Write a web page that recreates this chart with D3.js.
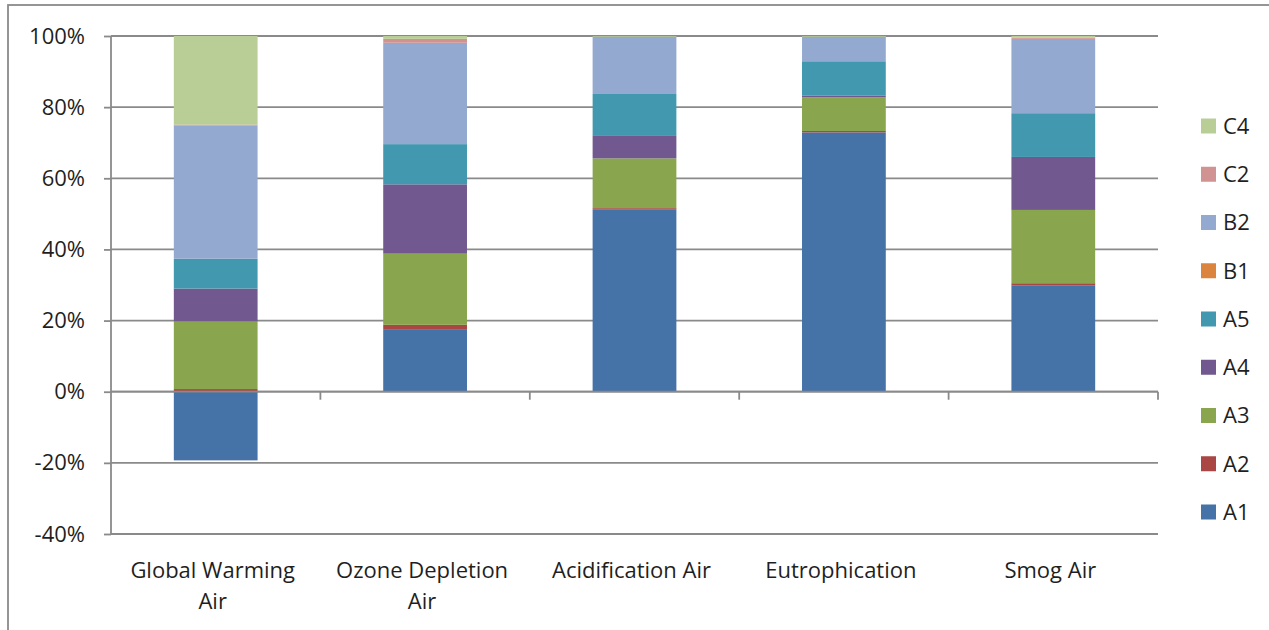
<!DOCTYPE html>
<html>
<head>
<meta charset="utf-8">
<script src="https://cdn.jsdelivr.net/npm/d3@7"></script>
<style>
  html, body { margin: 0; padding: 0; background: #fff; }
  svg { display: block; }
  text { font-family: "Open Sans", sans-serif; fill: #1f1f1f; }
</style>
</head>
<body>
<svg id="chart" width="1269" height="630"></svg>
<script>
const categories = ["Global Warming Air", "Ozone Depletion Air", "Acidification Air", "Eutrophication", "Smog Air"];
const seriesNames = ["A1", "A2", "A3", "A4", "A5", "B1", "B2", "C2", "C4"];
const A1 = [-19.3, 17.4, 51.3, 72.9, 29.8];
const A2 = [0.75, 1.4, 0.3, 0.4, 0.7];
const A3 = [19.0, 20.0, 14.0, 9.5, 20.6];
const A4 = [9.25, 19.5, 6.5, 0.5, 14.9];
const A5 = [8.4, 11.3, 11.6, 9.6, 12.3];
const B1 = [0, 0, 0, 0, 0];
const B2 = [37.4, 28.5, 16.1, 6.9, 20.9];
const C2 = [0.3, 1.1, 0, 0, 0.3];
const C4 = [24.9, 0.8, 0.2, 0.2, 0.5];
const yTicks = [-40, -20, 0, 20, 40, 60, 80, 100];
const colors = ["#4572A7", "#AA4643", "#89A54E", "#71588F", "#4198AF", "#DB843D", "#93A9CF", "#D19392", "#B9CD96"];

(function () {
const seriesValues = [A1, A2, A3, A4, A5, B1, B2, C2, C4];
const rows = categories.map((c, i) => {
  const r = { category: c };
  seriesNames.forEach((s, j) => r[s] = seriesValues[j][i]);
  return r;
});

const svg = d3.select("#chart");
const pLeft = 111, pRight = 1158, pTop = 36, pBottom = 534;
const gridColor = "#8a8a8a";
const fs = "22px";

// outer border
svg.append("rect").attr("x", 8).attr("y", 5).attr("width", 1400).attr("height", 800)
  .attr("fill", "none").attr("stroke", gridColor).attr("stroke-width", 1.8);

const y = d3.scaleLinear().domain([-40, 100]).range([pBottom, pTop]);
const x = d3.scaleBand().domain(categories).range([pLeft, pRight]).paddingInner(0.6).paddingOuter(0.3);
const xb = d3.scaleBand().domain(categories).range([pLeft, pRight]).padding(0);
const color = d3.scaleOrdinal().domain(seriesNames).range(colors);

// gridlines
svg.append("g").selectAll("line").data(yTicks).join("line")
  .attr("x1", pLeft).attr("x2", pRight)
  .attr("y1", d => y(d)).attr("y2", d => y(d))
  .attr("stroke", gridColor).attr("stroke-width", 1.8);

// bars
const stack = d3.stack().keys(seriesNames).offset(d3.stackOffsetDiverging);
const stacked = stack(rows);
svg.append("g").selectAll("g").data(stacked).join("g")
  .attr("fill", d => color(d.key))
  .selectAll("rect").data(d => d).join("rect")
  .attr("x", d => x(d.data.category))
  .attr("width", x.bandwidth())
  .attr("y", d => y(Math.max(d[0], d[1])))
  .attr("height", d => Math.abs(y(d[0]) - y(d[1])));

// y axis
const yAxis = d3.axisLeft(y).tickValues(yTicks).tickSize(7).tickPadding(19)
  .tickFormat(d => d + "%");
const yg = svg.append("g").attr("transform", `translate(${pLeft},0)`).call(yAxis);
yg.select(".domain").attr("stroke", gridColor).attr("stroke-width", 1.8).attr("d", `M0,${pTop}V${pBottom}`);
yg.selectAll(".tick line").attr("stroke", gridColor).attr("stroke-width", 1.8);
yg.selectAll("text").style("font-size", fs).style("font-family", "Open Sans").attr("fill", "#1f1f1f");

// x axis at zero
const xAxis = d3.axisBottom(xb).tickSize(0).tickFormat("");
const xg = svg.append("g").attr("transform", `translate(0,${y(0)})`).call(xAxis);
xg.select(".domain").attr("stroke", gridColor).attr("stroke-width", 1.8).attr("d", `M${pLeft},0H${pRight}`);
xg.selectAll(".tick").remove();
xg.selectAll("line.sep").data(categories).join("line").attr("class", "sep")
  .attr("x1", d => xb(d) + xb.bandwidth()).attr("x2", d => xb(d) + xb.bandwidth())
  .attr("y1", 0).attr("y2", 8)
  .attr("stroke", gridColor).attr("stroke-width", 1.8);

// category labels (wrapped)
const labelG = svg.append("g");
categories.forEach(c => {
  const cx = xb(c) + xb.bandwidth() / 2 - 3;
  const t = labelG.append("text").attr("x", cx).attr("y", 578).attr("text-anchor", "middle")
    .style("font-size", fs);
  const words = c.split(" ");
  let line = [];
  let tspan = t.append("tspan").attr("x", cx).attr("dy", 0);
  words.forEach(w => {
    line.push(w);
    tspan.text(line.join(" "));
    if (tspan.node().getComputedTextLength() > 188 && line.length > 1) {
      line.pop();
      tspan.text(line.join(" "));
      line = [w];
      tspan = t.append("tspan").attr("x", cx).attr("dy", 31).text(w);
    }
  });
});

// legend
const legendNames = seriesNames.slice().reverse();
const lg = svg.append("g");
legendNames.forEach((s, i) => {
  const yy = 118.5 + i * 48.25;
  lg.append("rect").attr("x", 1201).attr("y", yy).attr("width", 15).attr("height", 15).attr("fill", color(s));
  lg.append("text").attr("x", 1223).attr("y", yy + 7.5).attr("dy", "0.36em").style("font-size", fs).text(s);
});
})();
</script>
</body>
</html>
